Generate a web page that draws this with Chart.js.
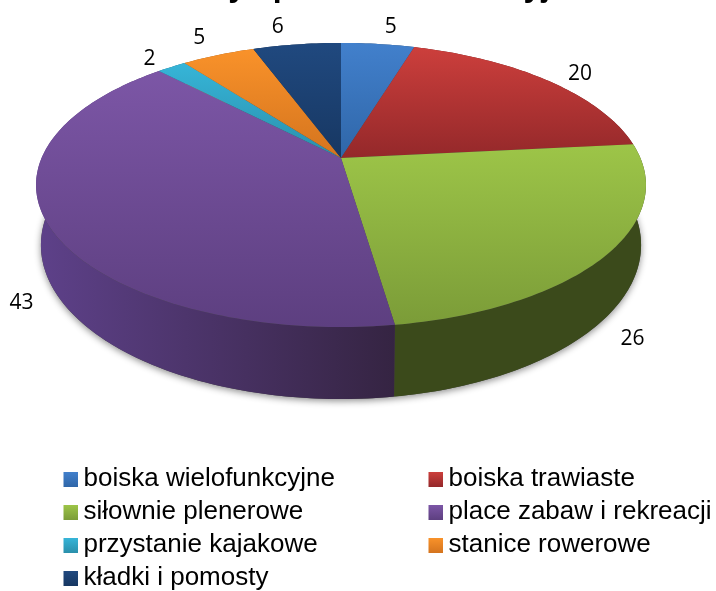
<!DOCTYPE html>
<html>
<head>
<meta charset="utf-8">
<script src="https://cdn.jsdelivr.net/npm/chart.js@4/dist/chart.umd.min.js"></script>
<style>
	body { margin: 0; background: #fff; }
	canvas { display: block; }
</style>
</head>
<body>
<canvas id="myChart" width="716" height="591"></canvas>
<script>
var chartTitle = 'Obiekty sportowo-rekreacyjne';
var categories = ['boiska wielofunkcyjne', 'boiska trawiaste', 'siłownie plenerowe', 'place zabaw i rekreacji', 'przystanie kajakowe', 'stanice rowerowe', 'kładki i pomosty'];
var values = [5, 20, 26, 43, 2, 5, 6];

// kolory: gora / dol gradientu, sciana boczna lewa / prawa
var topLight = ['#4280cc', '#cc3f3c', '#9dc548', '#7c56a6', '#36b5d8', '#f9922a', '#20497f'];
var topDark = ['#2f66a8', '#94282a', '#7b9c38', '#5d3f80', '#2a8fab', '#d4741e', '#173762'];
var sideLeft = ['#24466f', '#6b1e1e', '#3b4a1b', '#5e418a', '#1d6479', '#9c5516', '#102848'];
var sideRight = ['#24466f', '#6b1e1e', '#3b4a1b', '#352442', '#1d6479', '#9c5516', '#102848'];

// rzut perspektywiczny: osobno wierzch i podstawa tortu
var K = 0.19;
var topFace = { cx: 341, cy: 158, a: 299.4, b: 136.9 };
var baseFace = { cx: 341, cy: 215.8, a: 294.6, b: 148.4 };

// przesuniecie etykiety od krawedzi wierzchu
var labelShift = [[13, -17], [33, -6], [24, 86], [-26, 79], [-22, -8], [-19, -17], [-19, -17]];

function project(face, angle) {
	var u = Math.cos(angle), v = Math.sin(angle);
	var w = 1 - K * v;
	return { x: face.cx + face.a * u / w, y: face.cy + face.b * v / w };
}

function rim(face, start, end) {
	var pts = [];
	var n = Math.max(2, Math.ceil((end - start) / 0.02));
	for (var i = 0; i <= n; i++)
		pts.push(project(face, start + (end - start) * i / n));
	return pts;
}

function trace(ctx, pts) {
	ctx.beginPath();
	pts.forEach(function(p, i) {
		if (i == 0) ctx.moveTo(p.x, p.y);
		else ctx.lineTo(p.x, p.y);
	});
	ctx.closePath();
}

function gradient(ctx, x0, y0, x1, y1, c0, c1) {
	var g = ctx.createLinearGradient(x0, y0, x1, y1);
	g.addColorStop(0, c0);
	g.addColorStop(1, c1);
	return g;
}

var pie3d = {
	id: 'pie3d',
	beforeDatasetsDraw: function(chart) {
		var ctx = chart.ctx;
		var arcs = chart.getDatasetMeta(0).data;

		// cien pod podstawa
		ctx.save();
		ctx.shadowColor = 'rgba(0,0,0,0.45)';
		ctx.shadowBlur = 7;
		ctx.shadowOffsetX = 0;
		ctx.shadowOffsetY = 2;
		ctx.fillStyle = '#444';
		trace(ctx, rim(baseFace, 0, Math.PI * 2));
		ctx.fill();
		ctx.restore();

		// sciany boczne
		arcs.forEach(function(arc, i) {
			var t = rim(topFace, arc.startAngle, arc.endAngle);
			var b = rim(baseFace, arc.startAngle, arc.endAngle);
			var xs = t.map(function(p) { return p.x; });
			var x0 = Math.min.apply(null, xs), x1 = Math.max.apply(null, xs);
			ctx.fillStyle = gradient(ctx, x0, 0, x1 + 1, 0, sideLeft[i], sideRight[i]);
			trace(ctx, t.concat(b.reverse()));
			ctx.fill();
		});

		// wierzch
		arcs.forEach(function(arc, i) {
			var pts = rim(topFace, arc.startAngle, arc.endAngle);
			pts.push({ x: topFace.cx, y: topFace.cy });
			var ys = pts.map(function(p) { return p.y; });
			var y0 = Math.min.apply(null, ys), y1 = Math.max.apply(null, ys);
			ctx.fillStyle = gradient(ctx, 0, y0, 0, y1, topLight[i], topDark[i]);
			trace(ctx, pts);
			ctx.fill();
		});

		return false;
	},
	afterDraw: function(chart) {
		var ctx = chart.ctx;
		var arcs = chart.getDatasetMeta(0).data;
		ctx.save();

		// wartosci
		ctx.fillStyle = '#000';
		ctx.font = '21px "Open Sans"';
		ctx.textAlign = 'center';
		ctx.textBaseline = 'middle';
		arcs.forEach(function(arc, i) {
			var p = project(topFace, (arc.startAngle + arc.endAngle) / 2);
			ctx.fillText(values[i], p.x + labelShift[i][0], p.y + labelShift[i][1]);
		});

		// legenda w dwoch kolumnach
		ctx.font = '26px "Liberation Sans"';
		ctx.textAlign = 'left';
		categories.forEach(function(name, i) {
			var col = i % 2, row = Math.floor(i / 2);
			var x = col == 0 ? 63.5 : 428.5;
			var y = 472 + row * 33;
			ctx.fillStyle = gradient(ctx, 0, y, 0, y + 15, topLight[i], topDark[i]);
			ctx.fillRect(x, y, 14.5, 15);
			ctx.fillStyle = '#000';
			ctx.fillText(name, x + 20, y + 7);
		});
		ctx.restore();
	}
};

var myChart = new Chart(document.getElementById('myChart'), {
	type: 'pie',
	data: {
		labels: categories,
		datasets: [{ data: values, backgroundColor: topLight, borderWidth: 0 }]
	},
	options: {
		responsive: false,
		animation: false,
		plugins: {
			legend: { display: false },
			tooltip: { enabled: false },
			title: {
				display: true,
				text: chartTitle,
				color: '#000',
				padding: { top: -32, bottom: 0 },
				font: { family: '"Liberation Sans"', size: 32, weight: 'bold' }
			}
		}
	},
	plugins: [pie3d]
});
</script>
</body>
</html>
